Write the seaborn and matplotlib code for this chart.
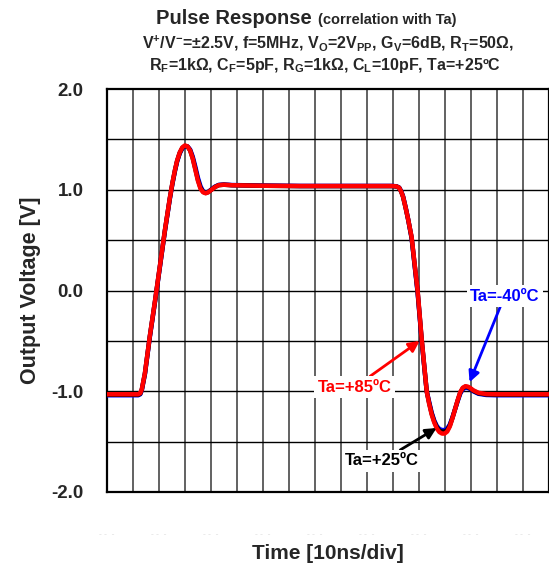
import numpy as np
import pandas as pd
import matplotlib
matplotlib.use("Agg")
import matplotlib.pyplot as plt
import seaborn as sns

# time axis in ns (10 ns per division)
time_ns = [0, 12.0, 12.8, 13.4, 14.0, 14.6, 16.5, 18.5, 20.4, 22.3, 24.2,
           25.2, 26.2, 27.0, 28.0, 29.0, 30.0, 31.0, 32.0, 33.0, 34.0, 35.0, 36.0,
           37.0, 38.0, 39.0, 40.0, 41.5, 43.0, 45.0, 48.0, 58.8, 74.2,
           110.0, 111.5, 112.5, 113.3, 114.0, 115.0, 116.0, 117.3, 119.6, 121.2, 123.1,
           124, 125, 126, 127, 128, 129, 130, 131, 132, 133, 134, 135, 136, 137, 138,
           139, 140, 141, 143, 146, 150, 170]

v_85 = [-1.03, -1.03, -1.02, -0.98, -0.90, -0.82, -0.45, -0.10, 0.25, 0.60, 0.92,
        1.07, 1.20, 1.29, 1.37, 1.42, 1.44, 1.43, 1.39, 1.31, 1.20, 1.09, 1.01,
        0.975, 0.965, 0.975, 0.995, 1.025, 1.045, 1.05, 1.045, 1.04, 1.037,
        1.037, 1.033, 1.02, 0.98, 0.93, 0.82, 0.70, 0.53, 0.0, -0.49, -1.0,
        -1.12, -1.23, -1.31, -1.37, -1.405, -1.42, -1.42, -1.40, -1.35, -1.27, -1.18, -1.09, -1.01, -0.965, -0.95,
        -0.955, -0.97, -0.99, -1.015, -1.028, -1.03, -1.03]

v_25 = [-1.035, -1.035, -1.025, -0.985, -0.905, -0.825, -0.455, -0.105, 0.245, 0.595, 0.915,
        1.065, 1.195, 1.285, 1.365, 1.415, 1.435, 1.428, 1.392, 1.315, 1.21, 1.10, 1.02,
        0.98, 0.968, 0.977, 0.997, 1.027, 1.046, 1.05, 1.045, 1.04, 1.036,
        1.036, 1.032, 1.02, 0.98, 0.93, 0.82, 0.70, 0.52, -0.01, -0.50, -1.0,
        -1.11, -1.22, -1.30, -1.355, -1.39, -1.40, -1.40, -1.385, -1.34, -1.265, -1.18, -1.095, -1.015, -0.97, -0.955,
        -0.96, -0.975, -0.995, -1.02, -1.032, -1.035, -1.035]

v_m40 = [-1.04, -1.04, -1.03, -0.99, -0.91, -0.83, -0.46, -0.11, 0.24, 0.59, 0.91,
         1.06, 1.19, 1.28, 1.36, 1.41, 1.43, 1.43, 1.40, 1.33, 1.23, 1.12, 1.035,
         0.985, 0.972, 0.98, 1.0, 1.03, 1.048, 1.052, 1.047, 1.042, 1.038,
         1.038, 1.034, 1.022, 0.985, 0.935, 0.825, 0.70, 0.52, -0.02, -0.51, -1.0,
         -1.10, -1.21, -1.29, -1.345, -1.375, -1.385, -1.385, -1.37, -1.33, -1.26, -1.18, -1.10, -1.025, -0.98, -0.965,
         -0.968, -0.98, -1.0, -1.025, -1.037, -1.04, -1.04]

y_ticks = [-2.0, -1.0, 0.0, 1.0, 2.0]
y_tick_labels = ["-2.0", "-1.0", "0.0", "1.0", "2.0"]

sns.set_style("white")
plt.rcParams["font.family"] = ["Liberation Sans", "DejaVu Sans"]
plt.rcParams["font.weight"] = "bold"
plt.rcParams["mathtext.fontset"] = "custom"
plt.rcParams["mathtext.rm"] = "Liberation Sans:bold"
plt.rcParams["mathtext.it"] = "Liberation Sans:bold"
plt.rcParams["mathtext.bf"] = "Liberation Sans:bold"
plt.rcParams["mathtext.default"] = "rm"

W, H = 549, 569
fig = plt.figure(figsize=(W / 100, H / 100), dpi=100)
ax = fig.add_axes([107 / W, 77 / H, 441.5 / W, 403 / H])

n = len(time_ns)
df = pd.DataFrame({"t": time_ns * 3,
                   "v": v_m40 + v_25 + v_85,
                   "Ta": ["-40"] * n + ["+25"] * n + ["+85"] * n})
sns.lineplot(data=df, x="t", y="v", hue="Ta", palette={"-40": "#0000ff", "+25": "#000000", "+85": "#ff0000"},
             estimator=None, sort=False, lw=3.2, legend=False, ax=ax,
             solid_joinstyle="round", solid_capstyle="round", zorder=3)

ax.set_xlim(0, 170)
ax.set_ylim(-2, 2)

# grid: vertical every division, horizontal every 0.5 V
for xv in np.arange(10, 170, 10):
    ax.axvline(xv, color="#555555", lw=1.3, zorder=1)
for yv in np.arange(-1.5, 2.0, 0.5):
    ax.axhline(yv, color="black", lw=1.0, zorder=1)

ax.set_yticks(y_ticks)
ax.set_yticklabels(y_tick_labels, fontsize=13.5, fontweight="bold")
ax.set_xticks(np.arange(0, 170, 20))
ax.set_xticklabels(["- -  -"] * 9, fontsize=6, color="#e4e4e4")
ax.tick_params(axis="y", length=0, pad=17)
ax.tick_params(axis="x", length=0, pad=28)
for s in ax.spines.values():
    s.set_linewidth(1.6)
    s.set_color("black")

ax.set_xlabel("Time [10ns/div]", fontsize=15, fontweight="bold")
ax.xaxis.set_label_coords(0.5, -0.128)
ax.set_ylabel("Output Voltage [V]", fontsize=15.5, fontweight="bold")
ax.yaxis.set_label_coords(-0.15, 0.5)

arrow = dict(arrowstyle="-|>", lw=2, mutation_scale=16, shrinkA=0, shrinkB=0)
box = dict(boxstyle="square,pad=0.2", fc="white", ec="none")
ax.annotate("Ta=+85ºC", xy=(120.4, -0.50), xytext=(95.4, -0.96), color="#ff0000",
            fontsize=12, fontweight="bold", ha="center", va="center", bbox=box,
            arrowprops=dict(arrow, color="#ff0000"), zorder=5)
ax.annotate("Ta=-40ºC", xy=(139.6, -0.91), xytext=(153.1, -0.055), color="#0000ff",
            fontsize=12, fontweight="bold", ha="center", va="center", bbox=box,
            arrowprops=dict(arrow, color="#0000ff"), zorder=5)
ax.annotate("Ta=+25ºC", xy=(126.9, -1.365), xytext=(106.0, -1.69), color="black",
            fontsize=12, fontweight="bold", ha="center", va="center", bbox=box,
            arrowprops=dict(arrow, color="black"), zorder=5)

fig.text(312 / W, 1 - 24 / H, "Pulse Response", fontsize=14.5, fontweight="bold", ha="right", va="baseline")
fig.text(318 / W, 1 - 24 / H, "(correlation with Ta)", fontsize=10.5, fontweight="bold", ha="left", va="baseline")
fig.text(328 / W, 1 - 48 / H,
         r"V$^{+}$/V$^{-}$=±2.5V, f=5MHz, V$_{O}$=2V$_{PP}$, G$_{V}$=6dB, R$_{T}$=50Ω,",
         fontsize=11.5, fontweight="bold", ha="center", va="baseline")
fig.text(324.5 / W, 1 - 70 / H,
         r"R$_{F}$=1kΩ, C$_{F}$=5pF, R$_{G}$=1kΩ, C$_{L}$=10pF, Ta=+25ºC",
         fontsize=11.5, fontweight="bold", ha="center", va="baseline")

fig.savefig("out.png", dpi=100)
